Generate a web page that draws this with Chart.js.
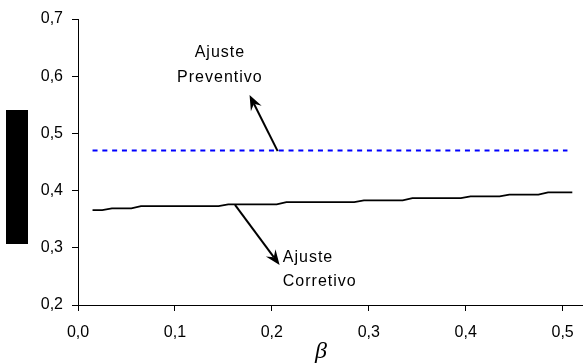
<!DOCTYPE html>
<html>
<head>
<meta charset="utf-8">
<script src="https://cdn.jsdelivr.net/npm/chart.js@4"></script>
<style>
  html, body { margin: 0; padding: 0; background: #fff; }
  #wrap { width: 587px; height: 364px; position: relative; }
</style>
</head>
<body>
<div id="wrap"><canvas id="graph"></canvas></div>
<script>
// beta values and the two curves
const corrX = [0.015, 0.025, 0.035, 0.055, 0.065, 0.145, 0.155, 0.205, 0.215, 0.285, 0.295, 0.335, 0.345, 0.395, 0.405, 0.435, 0.445, 0.475, 0.485, 0.51];
const corrY = [0.366, 0.366, 0.369, 0.369, 0.373, 0.373, 0.376, 0.376, 0.380, 0.380, 0.383, 0.383, 0.387, 0.387, 0.390, 0.390, 0.393, 0.393, 0.397, 0.397];
const prevX = [0.015, 0.505];
const prevY = [0.47, 0.47];

const xTicks = [0.0, 0.1, 0.2, 0.3, 0.4, 0.5];
const yTicks = [0.2, 0.3, 0.4, 0.5, 0.6, 0.7];

// annotation text and arrows (data coordinates)
const prevLabel = ['Ajuste', 'Preventivo'];
const corrLabel = ['Ajuste', 'Corretivo'];
const prevArrow = { from: [0.206, 0.469], to: [0.177, 0.567] };
const corrArrow = { from: [0.162, 0.375], to: [0.208, 0.270] };

function fmt(v) {
  return v.toFixed(1).replace('.', ',');
}

function drawArrow(ctx, x1, y1, x2, y2) {
  const ang = Math.atan2(y2 - y1, x2 - x1);
  const c = Math.cos(ang), s = Math.sin(ang);
  const len = 15, half = 6, notch = 0.65;
  ctx.save();
  ctx.strokeStyle = '#000';
  ctx.fillStyle = '#000';
  ctx.lineWidth = 2;
  ctx.beginPath();
  ctx.moveTo(x1, y1);
  ctx.lineTo(x2 - c * len * notch, y2 - s * len * notch);
  ctx.stroke();
  ctx.beginPath();
  ctx.moveTo(x2, y2);
  ctx.lineTo(x2 - c * len + s * half, y2 - s * len - c * half);
  ctx.lineTo(x2 - c * len * notch, y2 - s * len * notch);
  ctx.lineTo(x2 - c * len - s * half, y2 - s * len + c * half);
  ctx.closePath();
  ctx.fill();
  ctx.restore();
}

const notes = {
  id: 'notes',
  afterDraw(chart) {
    const ctx = chart.ctx;
    const xs = chart.scales.x, ys = chart.scales.y;
    ctx.save();
    ctx.font = '16px "Liberation Sans", Arial, sans-serif';
    ctx.letterSpacing = '1px';
    ctx.fillStyle = '#000';
    ctx.textBaseline = 'middle';

    ctx.textAlign = 'center';
    ctx.fillText(prevLabel[0], xs.getPixelForValue(0.1464), ys.getPixelForValue(0.6406));
    ctx.fillText(prevLabel[1], xs.getPixelForValue(0.1464), ys.getPixelForValue(0.5969));

    ctx.textAlign = 'left';
    ctx.fillText(corrLabel[0], xs.getPixelForValue(0.2113), ys.getPixelForValue(0.2822));
    ctx.fillText(corrLabel[1], xs.getPixelForValue(0.2113), ys.getPixelForValue(0.2402));
    ctx.restore();

    drawArrow(ctx, xs.getPixelForValue(prevArrow.from[0]), ys.getPixelForValue(prevArrow.from[1]),
      xs.getPixelForValue(prevArrow.to[0]), ys.getPixelForValue(prevArrow.to[1]));
    drawArrow(ctx, xs.getPixelForValue(corrArrow.from[0]), ys.getPixelForValue(corrArrow.from[1]),
      xs.getPixelForValue(corrArrow.to[0]), ys.getPixelForValue(corrArrow.to[1]));

    // blacked-out y axis title
    ctx.save();
    ctx.fillStyle = '#000';
    ctx.fillRect(6, 110, 22, 134);
    ctx.restore();
  }
};

const tickFont = { family: '"Liberation Sans", Arial, sans-serif', size: 16 };

const ctx = document.getElementById('graph').getContext('2d');
const chart = new Chart(ctx, {
  type: 'scatter',
  data: {
    datasets: [{
      label: 'Ajuste Preventivo',
      data: prevX.map((x, i) => ({x: x, y: prevY[i]})),
      showLine: true,
      borderColor: '#0000ff',
      borderWidth: 2,
      borderDash: [5, 4.8],
      pointRadius: 0,
      fill: false,
    }, {
      label: 'Ajuste Corretivo',
      data: corrX.map((x, i) => ({x: x, y: corrY[i]})),
      showLine: true,
      borderColor: '#000',
      borderWidth: 1.8,
      pointRadius: 0,
      fill: false,
    }]
  },
  options: {
    responsive: true,
    maintainAspectRatio: false,
    animation: false,
    layout: { padding: { top: 19, right: 5, left: 0, bottom: 0 } },
    plugins: { legend: { display: false }, tooltip: { enabled: false } },
    scales: {
      x: {
        type: 'linear',
        min: 0,
        max: 0.52,
        afterBuildTicks: s => { s.ticks = xTicks.map(v => ({value: v})); },
        afterFit: s => { s.height = 59; },
        ticks: {
          callback: v => fmt(v),
          color: '#000',
          padding: 12,
          maxRotation: 0,
          font: tickFont
        },
        grid: { display: true, drawOnChartArea: false, drawTicks: true, tickLength: 6, color: '#000' },
        border: { display: true, color: '#000', width: 1 },
        title: {
          display: true,
          text: 'β   ',
          color: '#000',
          padding: { top: 0, bottom: -2 },
          font: { family: '"Liberation Serif", "Times New Roman", serif', style: 'italic', size: 24 }
        }
      },
      y: {
        type: 'linear',
        min: 0.2,
        max: 0.7,
        afterBuildTicks: s => { s.ticks = yTicks.map(v => ({value: v})); },
        afterFit: s => { s.width = 78; },
        ticks: {
          callback: v => fmt(v),
          color: '#000',
          padding: 9,
          font: tickFont
        },
        grid: { display: true, drawOnChartArea: false, drawTicks: true, tickLength: 6, color: '#000' },
        border: { display: true, color: '#000', width: 1 }
      }
    }
  },
  plugins: [notes]
});
</script>
</body>
</html>
